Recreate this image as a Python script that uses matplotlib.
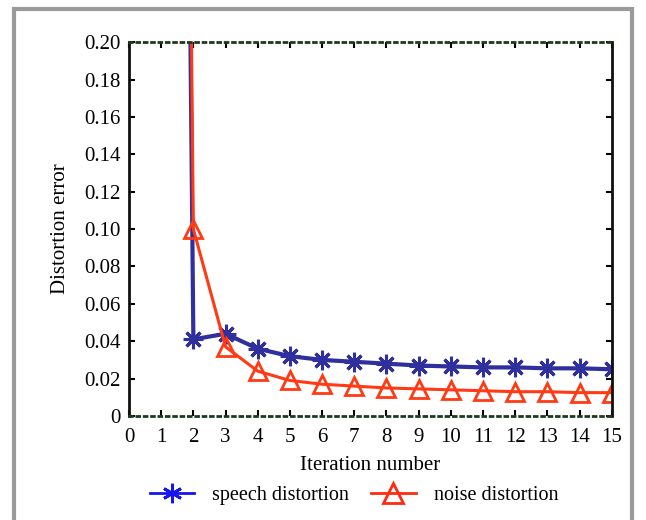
import matplotlib
matplotlib.use("Agg")
import matplotlib.pyplot as plt
from matplotlib.patches import Rectangle
from matplotlib.lines import Line2D

plt.rcParams['font.family'] = ['Liberation Serif', 'DejaVu Serif']
plt.rcParams['font.size'] = 15

iterations = [1, 2, 3, 4, 5, 6, 7, 8, 9, 10, 11, 12, 13, 14, 15]
speech = [1.8, 0.041, 0.044, 0.036, 0.032, 0.030, 0.029, 0.028, 0.027, 0.0265,
          0.026, 0.026, 0.0255, 0.0255, 0.025]
noise = [1.8, 0.100, 0.037, 0.024, 0.019, 0.017, 0.016, 0.015, 0.0145, 0.014,
         0.0135, 0.013, 0.013, 0.0125, 0.0125]
xticks = list(range(16))
yticks = [0, 0.02, 0.04, 0.06, 0.08, 0.10, 0.12, 0.14, 0.16, 0.18, 0.20]
ylabels = ['0'] + ['%.2f' % v for v in yticks[1:]]

blue = '#2f2f9e'
red = '#ff3a14'

fig = plt.figure(figsize=(6.46, 5.2), dpi=100)
fig.patches.append(Rectangle((0.021, -0.02), 0.958, 1.003, transform=fig.transFigure,
                             fill=False, edgecolor='#9a9a9a', linewidth=3))
ax = fig.add_axes([0.1997, 0.2, 0.7473, 0.719])

ax.plot(iterations, speech, color=blue, lw=3, marker=(8, 2, 0), ms=14, mew=2.2)
ax.plot(iterations, noise, color=red, lw=2.2, marker='^', ms=13, mfc='none', mew=2)

ax.set_xlim(0, 15)
ax.set_ylim(0, 0.2)
ax.set_xticks(xticks)
ax.set_yticks(yticks)
ax.set_yticklabels(ylabels)
ax.tick_params(direction='in', top=True, right=True, length=4, width=1.5)
ax.tick_params(axis='x', pad=9)
ax.tick_params(axis='y', pad=6)
for side in ['top', 'bottom']:
    ax.spines[side].set_linestyle(':')
    ax.spines[side].set_color('#1e3a1e')
    ax.spines[side].set_linewidth(2)
for side in ['left', 'right']:
    ax.spines[side].set_linewidth(2)
    ax.spines[side].set_color('#101010')

ax.set_xlabel('Iteration number', labelpad=6)
ax.set_ylabel('Distortion error', labelpad=10)

handles = [
    Line2D([], [], color='#1515ee', lw=2, marker=(6, 2, 0), ms=14, mew=2),
    Line2D([], [], color='#ff2a10', lw=2, marker='^', ms=14, mfc='none', mew=2),
]
labels = ['speech distortion', 'noise distortion']
fig.legend(handles, labels, loc='center', bbox_to_anchor=(0.548, 0.048), ncol=2,
           frameon=False, prop={'size': 14.5}, handlelength=2.2, handletextpad=0.9,
           columnspacing=1.1)

fig.savefig('out.png', dpi=100)
